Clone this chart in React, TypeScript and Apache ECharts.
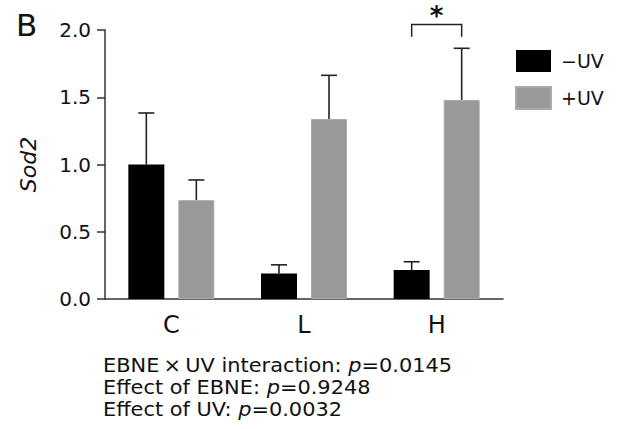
import React, { useEffect, useRef } from "react";
import * as echarts from "echarts";

const categories = ["C", "L", "H"];
const seriesNames = ["\u2212UV", "+UV"];
const meanMinusUV = [1.0, 0.19, 0.215];
const meanPlusUV = [0.735, 1.338, 1.48];
const errMinusUV = [0.383, 0.064, 0.062];
const errPlusUV = [0.15, 0.325, 0.384];
const yTicks = [0, 0.5, 1.0, 1.5, 2.0];
const footerLines = [
  ["EBNE\u2009\u00d7\u2009UV interaction: ", "p", "=0.0145"],
  ["Effect of EBNE: ", "p", "=0.9248"],
  ["Effect of UV: ", "p", "=0.0032"],
];
// significance bracket: category index, bracket bottom and top values
const sigBracket = { cat: 2, low: 1.95, high: 2.04, label: "*" };

const FONT = "DejaVu Sans, Verdana, sans-serif";
const BAR_W = 36;
const BAR_GAP_PX = 14;
const OFFSET = (BAR_W + BAR_GAP_PX) / 2;

export default function App() {
  const ref = useRef<HTMLDivElement>(null);
  useEffect(() => {
    document.body.style.margin = "0";
    const chart = echarts.init(ref.current!, undefined, { renderer: "svg" });

    const errData = (means: number[], errs: number[], side: number) =>
      means.map((m, i) => [i, m, m + errs[i], side]);

    const errRender = (params: any, api: any) => {
      const i = api.value(0);
      const side = api.value(3);
      const p0 = api.coord([i, api.value(1)]);
      const p1 = api.coord([i, api.value(2)]);
      const x = p0[0] + side * OFFSET;
      const cap = 8;
      const st = { stroke: "#222", lineWidth: 1.6 };
      return {
        type: "group",
        children: [
          { type: "line", shape: { x1: x, y1: p0[1], x2: x, y2: p1[1] }, style: st },
          { type: "line", shape: { x1: x - cap, y1: p1[1], x2: x + cap, y2: p1[1] }, style: st },
        ],
      };
    };

    const sigRender = (params: any, api: any) => {
      const i = api.value(0);
      const lo = api.coord([i, api.value(1)]);
      const hi = api.coord([i, api.value(2)]);
      const xl = lo[0] - OFFSET;
      const xr = lo[0] + OFFSET;
      const st = { stroke: "#222", lineWidth: 1.5, fill: null };
      return {
        type: "group",
        children: [
          {
            type: "polyline",
            shape: { points: [[xl, lo[1]], [xl, hi[1]], [xr, hi[1]], [xr, lo[1]]] },
            style: st,
          },
          {
            type: "text",
            style: {
              text: sigBracket.label,
              x: lo[0],
              y: hi[1] - 22,
              align: "center",
              verticalAlign: "top",
              font: `bold 26px ${FONT}`,
              fill: "#111",
            },
          },
        ],
      };
    };

    const footerText = footerLines.map((ln) => `${ln[0]}{i|${ln[1]}}${ln[2]}`).join("\n");

    chart.setOption({
      animation: false,
      textStyle: { fontFamily: FONT },
      grid: { left: 105, right: 114, top: 30, bottom: 130, containLabel: false },
      legend: {
        orient: "vertical",
        left: 515,
        top: 50,
        itemWidth: 35,
        itemHeight: 22,
        itemGap: 14,
        padding: 0,
        icon: "rect",
        data: seriesNames,
        textStyle: { fontSize: 19, color: "#111", fontFamily: FONT, padding: [0, 0, 0, 5] },
      },
      xAxis: {
        type: "category",
        data: categories,
        axisLine: { lineStyle: { color: "#333", width: 1.5 } },
        axisTick: { alignWithLabel: true, length: 6, lineStyle: { color: "#333", width: 1.5 } },
        axisLabel: { fontSize: 24, color: "#111", margin: 14, fontFamily: FONT },
      },
      yAxis: {
        type: "value",
        min: 0,
        max: 2,
        interval: 0.5,
        name: "Sod2",
        nameLocation: "middle",
        nameRotate: 90,
        nameGap: 66,
        nameTextStyle: { fontSize: 22, fontStyle: "italic", color: "#111", fontFamily: FONT },
        axisLine: { show: true, lineStyle: { color: "#333", width: 1.5 } },
        axisTick: { show: true, length: 8, lineStyle: { color: "#333", width: 1.5 } },
        splitLine: { show: false },
        axisLabel: {
          fontSize: 20,
          color: "#111",
          margin: 14,
          fontFamily: FONT,
          formatter: (v: number) => (yTicks.includes(v) ? v.toFixed(1) : ""),
        },
      },
      series: [
        {
          name: seriesNames[0],
          type: "bar",
          data: meanMinusUV,
          barWidth: BAR_W,
          barGap: `${(BAR_GAP_PX / BAR_W) * 100}%`,
          itemStyle: { color: "#000" },
        },
        {
          name: seriesNames[1],
          type: "bar",
          data: meanPlusUV,
          barWidth: BAR_W,
          barGap: `${(BAR_GAP_PX / BAR_W) * 100}%`,
          itemStyle: { color: "#999", borderColor: "#aaa", borderWidth: 1 },
        },
        {
          type: "custom",
          renderItem: errRender,
          data: errData(meanMinusUV, errMinusUV, -1),
          z: 1,
          clip: false,
        },
        {
          type: "custom",
          renderItem: errRender,
          data: errData(meanPlusUV, errPlusUV, 1),
          z: 1,
          clip: false,
        },
        {
          type: "custom",
          renderItem: sigRender,
          data: [[sigBracket.cat, sigBracket.low, sigBracket.high]],
          clip: false,
          z: 3,
        },
      ],
      graphic: [
        {
          type: "text",
          left: 16,
          top: 9,
          style: { text: "B", font: `31px ${FONT}`, fill: "#111" },
        },
        {
          type: "text",
          x: 103,
          y: 354,
          scaleX: 1.1,
          style: {
            text: footerText,
            x: 0,
            y: 0,
            verticalAlign: "top",
            font: `19px ${FONT}`,
            lineHeight: 22,
            fill: "#111",
            rich: {
              i: { fontStyle: "italic", fontSize: 19, lineHeight: 22, fontFamily: FONT, fill: "#111" },
            },
          },
        },
      ],
    });
    return () => chart.dispose();
  }, []);
  return <div ref={ref} style={{ width: 617, height: 429 }} />;
}
